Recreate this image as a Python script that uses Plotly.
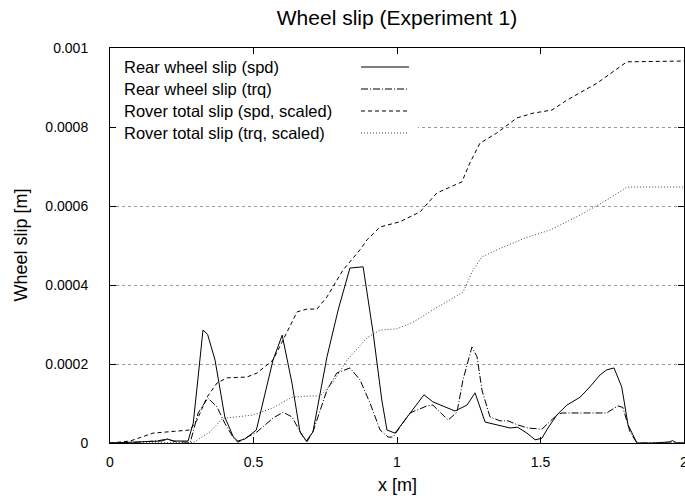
import plotly.graph_objects as go

# ---- data (x in m, slip in 1e-4 m) ----
spd_x = [0, 0.1, 0.18, 0.2, 0.22, 0.272, 0.29, 0.307, 0.324, 0.34, 0.366, 0.40, 0.43, 0.445, 0.47,
         0.51, 0.568, 0.60, 0.634, 0.662, 0.684, 0.707, 0.756, 0.795, 0.836, 0.882, 0.917, 0.947,
         0.965, 0.993, 1.045, 1.094, 1.125, 1.202, 1.244, 1.272, 1.307, 1.324, 1.359, 1.394, 1.42,
         1.453, 1.481, 1.505, 1.526, 1.557, 1.592, 1.638, 1.672, 1.707, 1.73, 1.756, 1.783, 1.805,
         1.836, 1.9, 1.95, 1.96, 1.975, 2.0]
spd_y = [0, 0.03, 0.05, 0.1, 0.05, 0.05, 0.5, 1.67, 2.86, 2.75, 2.1, 0.66, 0.15, 0.05, 0.1,
         0.33, 2.1, 2.73, 1.52, 0.28, 0.05, 0.28, 2.18, 3.37, 4.43, 4.46, 2.78, 1.09,
         0.33, 0.25, 0.76, 1.22, 1.04, 0.81, 0.96, 1.27, 0.53, 0.5, 0.43, 0.38, 0.40,
         0.25, 0.08, 0.12, 0.38, 0.71, 0.96, 1.16, 1.42, 1.72, 1.85, 1.9, 1.42, 0.46,
         0.0, 0.0, 0.03, 0.06, 0.0, 0.0]

trq_x = [0, 0.1, 0.17, 0.2, 0.23, 0.28, 0.307, 0.341, 0.373, 0.40, 0.43, 0.446, 0.512, 0.568,
         0.603, 0.634, 0.669, 0.686, 0.707, 0.756, 0.79, 0.836, 0.871, 0.906, 0.941, 0.969, 0.986,
         1.045, 1.105, 1.125, 1.178, 1.209, 1.23, 1.261, 1.279, 1.296, 1.324, 1.359, 1.387, 1.42,
         1.456, 1.505, 1.557, 1.575, 1.73, 1.77, 1.787, 1.812, 1.836, 2.0]
trq_y = [0, 0.02, 0.06, 0.1, 0.03, 0.02, 0.76, 1.14, 0.91, 0.5, 0.13, 0.02, 0.28, 0.63,
         0.78, 0.66, 0.2, 0.03, 0.28, 1.34, 1.77, 1.9, 1.6, 1.01, 0.33, 0.15, 0.15,
         0.76, 0.94, 0.96, 0.58, 0.78, 1.6, 2.43, 2.18, 1.34, 0.66, 0.56, 0.56, 0.46,
         0.38, 0.35, 0.71, 0.76, 0.76, 0.94, 0.9, 0.28, 0.0, 0.0]

tot_spd_x = [0, 0.07, 0.15, 0.233, 0.279, 0.303, 0.338, 0.373, 0.408, 0.477, 0.512, 0.568, 0.617,
             0.652, 0.686, 0.721, 0.756, 0.812, 0.871, 0.895, 0.941, 1.01, 1.08, 1.139, 1.226, 1.254,
             1.289, 1.348, 1.418, 1.474, 1.54, 1.592, 1.697, 1.753, 1.801, 2.0]
tot_spd_y = [0, 0.05, 0.25, 0.3, 0.33, 0.58, 1.16, 1.52, 1.65, 1.67, 1.77, 2.1, 2.81,
             3.32, 3.39, 3.39, 3.7, 4.38, 4.89, 5.14, 5.47, 5.6, 5.85, 6.33, 6.61, 7.09,
             7.59, 7.85, 8.23, 8.35, 8.43, 8.68, 9.11, 9.39, 9.65, 9.67]

tot_trq_x = [0, 0.25, 0.29, 0.348, 0.394, 0.442, 0.498, 0.568, 0.634, 0.697, 0.732, 0.777, 0.826,
             0.895, 0.941, 1.0, 1.056, 1.125, 1.174, 1.23, 1.265, 1.296, 1.348, 1.45, 1.533, 1.638,
             1.742, 1.801, 2.0]
tot_trq_y = [0, 0, 0.01, 0.28, 0.63, 0.66, 0.71, 0.89, 1.16, 1.19, 1.19, 1.54, 2.1,
             2.66, 2.86, 2.89, 3.06, 3.37, 3.57, 3.82, 4.38, 4.71, 4.89, 5.2, 5.39, 5.77,
             6.2, 6.48, 6.48]

scale = 1e-4
names = ["Rear wheel slip (spd)", "Rear wheel slip (trq)",
         "Rover total slip (spd, scaled)", "Rover total slip (trq, scaled)"]
x_ticks = [0, 0.5, 1, 1.5, 2]
x_ticklabels = ["0", "0.5", "1", "1.5", "2"]
y_ticks = [0, 0.0002, 0.0004, 0.0006, 0.0008, 0.001]
y_ticklabels = ["0", "0.0002", "0.0004", "0.0006", "0.0008", "0.001"]

series = [(spd_x, spd_y), (trq_x, trq_y), (tot_spd_x, tot_spd_y), (tot_trq_x, tot_trq_y)]
styles = [("black", "solid"), ("black", "7px,2px,1px,2px"), ("black", "4px,3px"), ("#444", "1px,2px")]

FONT = "Liberation Sans, Arial, Helvetica, sans-serif"
fig = go.Figure()
for (xs, ys), nm, (col, dash) in zip(series, names, styles):
    fig.add_trace(go.Scatter(x=xs, y=[v * scale for v in ys], mode="lines", name=nm,
                             line=dict(color=col, width=1, dash=dash), showlegend=False))

W, H = 685, 498
L, R, T, B = 110, 1, 48, 55
pw, ph = W - L - R, H - T - B
XR, YR = 2.0, 0.001

def px_to_paper(px, py):
    return (px - L) / pw, (H - B - py) / ph

shapes = []
# legend background (data coords so that it sits between grid and traces)
x0, y0 = px_to_paper(111, 145)
x1, y1 = px_to_paper(418, 50)
shapes.append(dict(type="rect", xref="x", yref="y", x0=x0 * XR, y0=y0 * YR, x1=x1 * XR, y1=y1 * YR,
                   fillcolor="white", line=dict(width=0), layer="between"))
annotations = []
rows = [67, 89, 111, 133]
for nm, (col, dash), ry in zip(names, styles, rows):
    tx, ty = px_to_paper(122, ry)
    annotations.append(dict(x=tx, y=ty, xref="paper", yref="paper", text=nm, showarrow=False,
                            xanchor="left", yanchor="middle", font=dict(size=16.5, color="black")))
    lx0, ly = px_to_paper(361, ry)
    lx1, _ = px_to_paper(409, ry)
    shapes.append(dict(type="line", xref="paper", yref="paper", x0=lx0, x1=lx1, y0=ly, y1=ly,
                       line=dict(color=col, width=1, dash=dash), layer="above"))

# axis titles
annotations.append(dict(x=0.5, y=(H - B - 485) / ph, xref="paper", yref="paper", yanchor="middle",
                        text="x [m]", showarrow=False, font=dict(size=18, color="black")))
annotations.append(dict(x=(20 - L) / pw, y=0.5, xref="paper", yref="paper", text="Wheel slip [m]",
                        showarrow=False, textangle=-90, xanchor="center", yanchor="middle",
                        font=dict(size=18, color="black")))

fig.update_layout(
    width=W, height=H, margin=dict(l=L, r=R, t=T, b=B, autoexpand=False),
    paper_bgcolor="white", plot_bgcolor="white",
    font=dict(family=FONT, size=14, color="black"),
    title=dict(text="Wheel slip (Experiment 1)", x=(L + pw / 2) / W, xanchor="center",
               y=1 - 18 / H, yanchor="middle", yref="container", font=dict(size=21)),
    shapes=shapes, annotations=annotations, showlegend=False,
    xaxis=dict(range=[0, XR], tickvals=x_ticks, ticktext=x_ticklabels, ticks="inside", ticklen=6,
               tickcolor="black", showline=True, linecolor="black", linewidth=1, mirror="ticks",
               showgrid=False, zeroline=False, ticklabelstandoff=6, tickfont=dict(size=14),
               ticklabeloverflow="allow"),
    yaxis=dict(range=[0, YR], tickvals=y_ticks, ticktext=y_ticklabels, ticks="inside", ticklen=6,
               tickcolor="black", showline=True, linecolor="black", linewidth=1, mirror="ticks",
               showgrid=True, gridcolor="#999", griddash="dot", gridwidth=1, zeroline=False,
               ticklabelstandoff=18, tickfont=dict(size=14), ticklabeloverflow="allow"),
)
fig.write_html("out.html")
